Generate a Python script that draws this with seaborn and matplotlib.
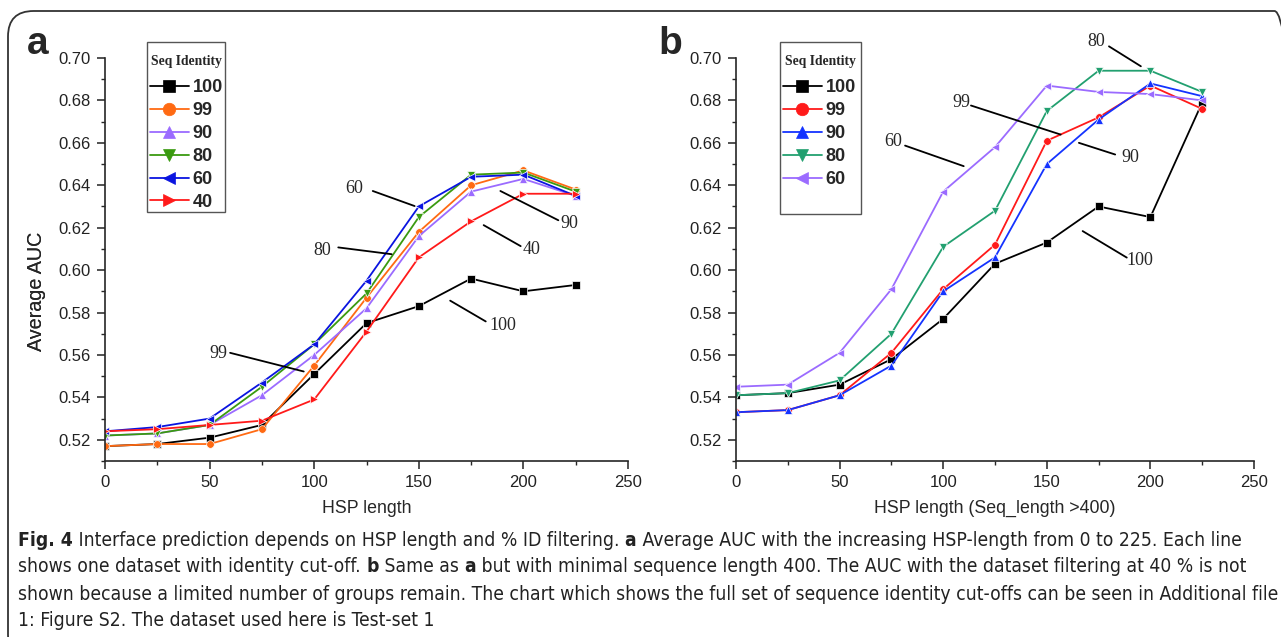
import numpy as np
import pandas as pd
import matplotlib
matplotlib.use('Agg')
import matplotlib.pyplot as plt
import seaborn as sns
from matplotlib.lines import Line2D
from matplotlib.patches import FancyBboxPatch, Rectangle
from matplotlib.ticker import MultipleLocator

# HSP length cut-offs
hsp_len = [0, 25, 50, 75, 100, 125, 150, 175, 200, 225]

# panel a: average AUC per sequence identity cut-off
a_100 = [0.517, 0.518, 0.521, 0.527, 0.551, 0.575, 0.583, 0.596, 0.590, 0.593]
a_99 = [0.517, 0.518, 0.518, 0.525, 0.555, 0.587, 0.618, 0.640, 0.647, 0.638]
a_90 = [0.522, 0.523, 0.527, 0.541, 0.560, 0.582, 0.616, 0.637, 0.643, 0.635]
a_80 = [0.522, 0.523, 0.527, 0.545, 0.565, 0.589, 0.625, 0.645, 0.646, 0.637]
a_60 = [0.524, 0.526, 0.530, 0.547, 0.565, 0.595, 0.630, 0.644, 0.645, 0.635]
a_40 = [0.524, 0.525, 0.527, 0.529, 0.539, 0.571, 0.606, 0.623, 0.636, 0.636]

# panel b: same, Seq_length > 400
b_100 = [0.541, 0.542, 0.546, 0.558, 0.577, 0.603, 0.613, 0.630, 0.625, 0.679]
b_99 = [0.533, 0.534, 0.541, 0.561, 0.591, 0.612, 0.661, 0.672, 0.687, 0.676]
b_90 = [0.533, 0.534, 0.541, 0.555, 0.590, 0.606, 0.650, 0.671, 0.688, 0.682]
b_80 = [0.541, 0.542, 0.548, 0.570, 0.611, 0.628, 0.675, 0.694, 0.694, 0.684]
b_60 = [0.545, 0.546, 0.561, 0.591, 0.637, 0.658, 0.687, 0.684, 0.683, 0.680]

series_a = {'100': a_100, '99': a_99, '90': a_90, '80': a_80, '60': a_60, '40': a_40}
series_b = {'100': b_100, '99': b_99, '90': b_90, '80': b_80, '60': b_60}

markers = {'100': 's', '99': 'o', '90': '^', '80': 'v', '60': '<', '40': '>'}
colors_a = {'100': '#000000', '99': '#FF6A13', '90': '#9B6BFF', '80': '#3A9A10',
            '60': '#0A14E0', '40': '#FF1A1A'}
colors_b = {'100': '#000000', '99': '#FF1A1A', '90': '#1433FF', '80': '#22A070',
            '60': '#9B6BFF'}

# callout labels: (text, text pos, line start, line end)
notes_a = [('60', (119, 0.6385), (128, 0.6373), (148, 0.6302)),
           ('80', (104, 0.6094), (111.5, 0.6107), (137, 0.6075)),
           ('99', (54, 0.5605), (59.8, 0.5610), (95, 0.5522)),
           ('90', (222, 0.6222), (189, 0.6373), (216.7, 0.6235)),
           ('40', (204, 0.6099), (181, 0.6212), (198.7, 0.6113)),
           ('100', (190, 0.5737), (165, 0.5856), (182, 0.5758))]
notes_b = [('80', (174, 0.7078), (180, 0.7055), (195.4, 0.6961)),
           ('99', (109, 0.6788), (113.4, 0.6776), (156.7, 0.6639)),
           ('60', (75.7, 0.6608), (81.6, 0.6587), (109.9, 0.6490)),
           ('90', (190.5, 0.6529), (165.5, 0.6600), (183, 0.6545)),
           ('100', (195, 0.6043), (167.3, 0.6184), (188.6, 0.6059))]

sns.set_style('ticks')
plt.rcParams['font.family'] = ['Liberation Sans', 'DejaVu Sans']

W, H = 1281, 637
fig = plt.figure(figsize=(W / 100, H / 100), dpi=100)


def fx(px):
    return px / W


def fy(py):
    return 1 - py / H


def long_df(series):
    rows = []
    for k, v in series.items():
        for x, y in zip(hsp_len, v):
            rows.append({'HSP': x, 'AUC': y, 'id': k})
    return pd.DataFrame(rows)


def draw_panel(left, right, series, colors, notes, xlabel, letter, box):
    ax = fig.add_axes([fx(left), fy(461), fx(right) - fx(left), fy(58) - fy(461)])
    df = long_df(series)
    sns.lineplot(data=df, x='HSP', y='AUC', hue='id', style='id',
                 hue_order=list(series), style_order=list(series),
                 palette=colors, markers=markers, dashes=False,
                 markersize=5.5, linewidth=1.3, markeredgewidth=0.5,
                 legend=False, ax=ax)
    ax.set_xlim(0, 250)
    ax.set_ylim(0.51, 0.70)
    ax.set_xticks(range(0, 251, 50))
    ax.set_yticks(np.arange(0.52, 0.7001, 0.02))
    ax.set_yticklabels([f'{v:.2f}' for v in np.arange(0.52, 0.7001, 0.02)])
    ax.xaxis.set_minor_locator(MultipleLocator(25))
    ax.yaxis.set_minor_locator(MultipleLocator(0.01))
    ax.tick_params(which='major', direction='out', length=6, width=1.1,
                   labelsize=12, colors='#222222', pad=4)
    ax.tick_params(which='minor', direction='out', length=3, width=1.0)
    for s in ['top', 'right']:
        ax.spines[s].set_visible(False)
    for s in ['left', 'bottom']:
        ax.spines[s].set_linewidth(1.2)
    ax.set_xlabel(xlabel, fontsize=12.8, labelpad=7)
    ax.set_ylabel('Average AUC', fontsize=14.2)
    ax.yaxis.set_label_coords((46 - left) / (right - left), 0.42)

    for txt, tp, p0, p1 in notes:
        ax.annotate('', xy=p1, xytext=p0, annotation_clip=False,
                    arrowprops=dict(arrowstyle='-', color='black', lw=1.3,
                                    shrinkA=0, shrinkB=0))
        ax.text(tp[0], tp[1], txt, family=['Liberation Serif', 'DejaVu Serif'],
                fontsize=13, ha='center', va='center', clip_on=False)

    # legend box
    bx0, by0, bx1, by1 = box
    fig.patches.append(Rectangle((fx(bx0), fy(by1)), fx(bx1) - fx(bx0), fy(by0) - fy(by1),
                                 transform=fig.transFigure, fill=False,
                                 edgecolor='#555555', lw=1.0))
    fig.text(fx((bx0 + bx1) / 2), fy(by0 + 19), 'Seq Identity',
             family=['Liberation Serif', 'DejaVu Serif'], fontweight='bold',
             fontsize=9.8, ha='center', va='center')
    handles = [Line2D([], [], color=colors[k], marker=markers[k], markersize=9,
                      lw=1.3, markeredgewidth=0.5) for k in series]
    fig.legend(handles, list(series), loc='upper left',
               bbox_to_anchor=(fx(bx0 + 3), fy(by0 + 37)), frameon=False,
               handlelength=2.15, handletextpad=0.2, labelspacing=0.33,
               borderpad=0.0, borderaxespad=0.0,
               prop=dict(weight='bold', size=13))
    fig.text(fx(left - 78), fy(44), letter, fontsize=28, fontweight='bold',
             ha='left', va='center')
    return ax


draw_panel(105, 628, series_a, colors_a, notes_a, 'HSP length', 'a', (147, 42, 225, 212))
draw_panel(736, 1254, series_b, colors_b, notes_b, 'HSP length (Seq_length >400)', 'b',
           (780, 42, 861, 214))

# rounded frame around the figure
fig.patches.append(FancyBboxPatch((fx(8), fy(660)), fx(1300) - fx(8), fy(11) - fy(660),
                                  boxstyle='round,pad=0,rounding_size=0.02',
                                  transform=fig.transFigure, fill=False,
                                  edgecolor='#333333', lw=1.3, mutation_aspect=2.0))

# caption
cap_lines = [
    [('Fig. 4', True), (' Interface prediction depends on HSP length and % ID filtering.', False),
     (' a', True), (' Average AUC with the increasing HSP-length from 0 to 225. Each line', False)],
    [('shows one dataset with identity cut-off.', False), (' b', True), (' Same as', False),
     (' a', True), (' but with minimal sequence length 400. The AUC with the dataset filtering at 40 % is not', False)],
    [('shown because a limited number of groups remain. The chart which shows the full set of sequence identity cut-offs can be seen in Additional file', False)],
    [('1: Figure S2. The dataset used here is Test-set 1', False)],
]
cap_font = dict(family=['DejaVu Sans'], fontstretch='condensed', color='#222222',
                ha='left', va='center')
renderer = fig.canvas.get_renderer()

# fit the longest caption line into the frame
probe = fig.text(0, 0, cap_lines[2][0][0], fontsize=13, **cap_font)
w3 = probe.get_window_extent(renderer=renderer).width
probe.remove()
cap_size = min(14.5, 13 * 1258 / w3)

for i, runs in enumerate(cap_lines):
    x = fx(18)
    y = fy(540 + 27 * i)
    for txt, bold in runs:
        t = fig.text(x, y, txt, fontweight='bold' if bold else 'normal',
                     fontsize=cap_size, **cap_font)
        x += t.get_window_extent(renderer=renderer).width / W

fig.savefig('out.png', dpi=100)
